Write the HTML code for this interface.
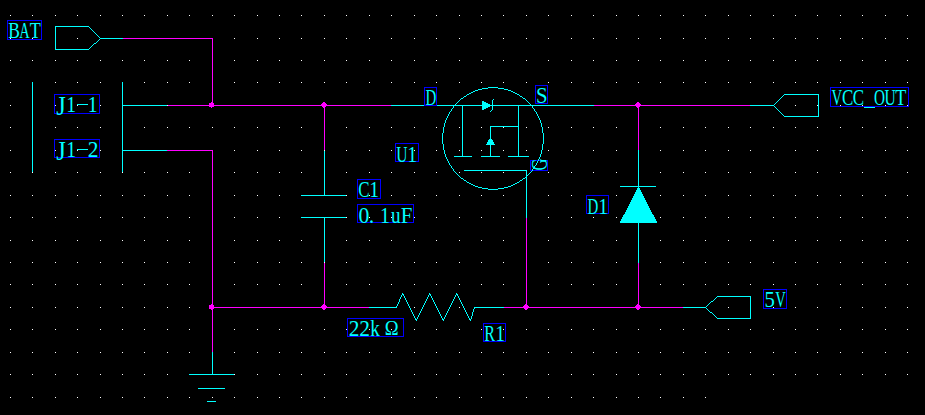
<!DOCTYPE html>
<html><head><meta charset="utf-8"><title>Schematic</title>
<style>
html,body{margin:0;padding:0;background:#000;}
body{width:925px;height:415px;overflow:hidden;font-family:"Liberation Serif",serif;}
svg{display:block;}
text{font-family:"Liberation Serif",serif;font-size:22.7px;fill:#00FFFF;text-anchor:middle;}
</style></head><body>
<svg width="925" height="415" viewBox="0 0 925 415">
<rect width="925" height="415" fill="#000"/>
<g shape-rendering="crispEdges">
<path fill="#FFFFFF" d="M10 15h1v1h-1zM32 15h1v1h-1zM55 15h1v1h-1zM77 15h1v1h-1zM100 15h1v1h-1zM122 15h1v1h-1zM144 15h1v1h-1zM167 15h1v1h-1zM189 15h1v1h-1zM212 15h1v1h-1zM234 15h1v1h-1zM257 15h1v1h-1zM279 15h1v1h-1zM301 15h1v1h-1zM324 15h1v1h-1zM346 15h1v1h-1zM369 15h1v1h-1zM391 15h1v1h-1zM414 15h1v1h-1zM436 15h1v1h-1zM459 15h1v1h-1zM481 15h1v1h-1zM503 15h1v1h-1zM526 15h1v1h-1zM548 15h1v1h-1zM571 15h1v1h-1zM593 15h1v1h-1zM616 15h1v1h-1zM638 15h1v1h-1zM660 15h1v1h-1zM683 15h1v1h-1zM705 15h1v1h-1zM728 15h1v1h-1zM750 15h1v1h-1zM773 15h1v1h-1zM795 15h1v1h-1zM817 15h1v1h-1zM840 15h1v1h-1zM862 15h1v1h-1zM885 15h1v1h-1zM907 15h1v1h-1zM10 38h1v1h-1zM32 38h1v1h-1zM77 38h1v1h-1zM234 38h1v1h-1zM257 38h1v1h-1zM279 38h1v1h-1zM301 38h1v1h-1zM324 38h1v1h-1zM346 38h1v1h-1zM369 38h1v1h-1zM391 38h1v1h-1zM414 38h1v1h-1zM436 38h1v1h-1zM459 38h1v1h-1zM481 38h1v1h-1zM503 38h1v1h-1zM526 38h1v1h-1zM548 38h1v1h-1zM571 38h1v1h-1zM593 38h1v1h-1zM616 38h1v1h-1zM638 38h1v1h-1zM660 38h1v1h-1zM683 38h1v1h-1zM705 38h1v1h-1zM728 38h1v1h-1zM750 38h1v1h-1zM773 38h1v1h-1zM795 38h1v1h-1zM817 38h1v1h-1zM840 38h1v1h-1zM862 38h1v1h-1zM885 38h1v1h-1zM907 38h1v1h-1zM10 60h1v1h-1zM32 60h1v1h-1zM55 60h1v1h-1zM77 60h1v1h-1zM100 60h1v1h-1zM122 60h1v1h-1zM144 60h1v1h-1zM167 60h1v1h-1zM189 60h1v1h-1zM234 60h1v1h-1zM257 60h1v1h-1zM279 60h1v1h-1zM301 60h1v1h-1zM324 60h1v1h-1zM346 60h1v1h-1zM369 60h1v1h-1zM391 60h1v1h-1zM414 60h1v1h-1zM436 60h1v1h-1zM459 60h1v1h-1zM481 60h1v1h-1zM503 60h1v1h-1zM526 60h1v1h-1zM548 60h1v1h-1zM571 60h1v1h-1zM593 60h1v1h-1zM616 60h1v1h-1zM638 60h1v1h-1zM660 60h1v1h-1zM683 60h1v1h-1zM705 60h1v1h-1zM728 60h1v1h-1zM750 60h1v1h-1zM773 60h1v1h-1zM795 60h1v1h-1zM817 60h1v1h-1zM840 60h1v1h-1zM862 60h1v1h-1zM885 60h1v1h-1zM907 60h1v1h-1zM10 82h1v1h-1zM55 82h1v1h-1zM77 82h1v1h-1zM100 82h1v1h-1zM144 82h1v1h-1zM167 82h1v1h-1zM189 82h1v1h-1zM234 82h1v1h-1zM257 82h1v1h-1zM279 82h1v1h-1zM301 82h1v1h-1zM324 82h1v1h-1zM346 82h1v1h-1zM369 82h1v1h-1zM391 82h1v1h-1zM414 82h1v1h-1zM436 82h1v1h-1zM459 82h1v1h-1zM481 82h1v1h-1zM503 82h1v1h-1zM526 82h1v1h-1zM548 82h1v1h-1zM571 82h1v1h-1zM593 82h1v1h-1zM616 82h1v1h-1zM638 82h1v1h-1zM660 82h1v1h-1zM683 82h1v1h-1zM705 82h1v1h-1zM728 82h1v1h-1zM750 82h1v1h-1zM773 82h1v1h-1zM795 82h1v1h-1zM817 82h1v1h-1zM840 82h1v1h-1zM862 82h1v1h-1zM885 82h1v1h-1zM907 82h1v1h-1zM10 105h1v1h-1zM55 105h1v1h-1zM77 105h1v1h-1zM100 105h1v1h-1zM167 105h1v1h-1zM795 105h1v1h-1zM817 105h1v1h-1zM840 105h1v1h-1zM862 105h1v1h-1zM885 105h1v1h-1zM907 105h1v1h-1zM10 127h1v1h-1zM55 127h1v1h-1zM77 127h1v1h-1zM100 127h1v1h-1zM144 127h1v1h-1zM167 127h1v1h-1zM189 127h1v1h-1zM212 127h1v1h-1zM234 127h1v1h-1zM257 127h1v1h-1zM279 127h1v1h-1zM301 127h1v1h-1zM346 127h1v1h-1zM369 127h1v1h-1zM391 127h1v1h-1zM414 127h1v1h-1zM436 127h1v1h-1zM459 127h1v1h-1zM481 127h1v1h-1zM503 127h1v1h-1zM526 127h1v1h-1zM548 127h1v1h-1zM571 127h1v1h-1zM593 127h1v1h-1zM616 127h1v1h-1zM660 127h1v1h-1zM683 127h1v1h-1zM705 127h1v1h-1zM728 127h1v1h-1zM750 127h1v1h-1zM773 127h1v1h-1zM795 127h1v1h-1zM817 127h1v1h-1zM840 127h1v1h-1zM862 127h1v1h-1zM885 127h1v1h-1zM907 127h1v1h-1zM10 150h1v1h-1zM55 150h1v1h-1zM77 150h1v1h-1zM100 150h1v1h-1zM234 150h1v1h-1zM257 150h1v1h-1zM279 150h1v1h-1zM301 150h1v1h-1zM324 150h1v1h-1zM346 150h1v1h-1zM369 150h1v1h-1zM391 150h1v1h-1zM414 150h1v1h-1zM436 150h1v1h-1zM459 150h1v1h-1zM481 150h1v1h-1zM503 150h1v1h-1zM526 150h1v1h-1zM548 150h1v1h-1zM571 150h1v1h-1zM593 150h1v1h-1zM616 150h1v1h-1zM660 150h1v1h-1zM683 150h1v1h-1zM705 150h1v1h-1zM728 150h1v1h-1zM750 150h1v1h-1zM773 150h1v1h-1zM795 150h1v1h-1zM817 150h1v1h-1zM840 150h1v1h-1zM862 150h1v1h-1zM885 150h1v1h-1zM907 150h1v1h-1zM10 172h1v1h-1zM32 172h1v1h-1zM55 172h1v1h-1zM77 172h1v1h-1zM100 172h1v1h-1zM122 172h1v1h-1zM144 172h1v1h-1zM167 172h1v1h-1zM189 172h1v1h-1zM234 172h1v1h-1zM257 172h1v1h-1zM279 172h1v1h-1zM301 172h1v1h-1zM346 172h1v1h-1zM369 172h1v1h-1zM391 172h1v1h-1zM414 172h1v1h-1zM436 172h1v1h-1zM459 172h1v1h-1zM481 172h1v1h-1zM503 172h1v1h-1zM548 172h1v1h-1zM571 172h1v1h-1zM593 172h1v1h-1zM616 172h1v1h-1zM660 172h1v1h-1zM683 172h1v1h-1zM705 172h1v1h-1zM728 172h1v1h-1zM750 172h1v1h-1zM773 172h1v1h-1zM795 172h1v1h-1zM817 172h1v1h-1zM840 172h1v1h-1zM862 172h1v1h-1zM885 172h1v1h-1zM907 172h1v1h-1zM10 195h1v1h-1zM32 195h1v1h-1zM55 195h1v1h-1zM77 195h1v1h-1zM100 195h1v1h-1zM122 195h1v1h-1zM144 195h1v1h-1zM167 195h1v1h-1zM189 195h1v1h-1zM234 195h1v1h-1zM257 195h1v1h-1zM279 195h1v1h-1zM346 195h1v1h-1zM369 195h1v1h-1zM391 195h1v1h-1zM414 195h1v1h-1zM436 195h1v1h-1zM459 195h1v1h-1zM481 195h1v1h-1zM503 195h1v1h-1zM548 195h1v1h-1zM571 195h1v1h-1zM616 195h1v1h-1zM660 195h1v1h-1zM683 195h1v1h-1zM705 195h1v1h-1zM728 195h1v1h-1zM750 195h1v1h-1zM773 195h1v1h-1zM795 195h1v1h-1zM817 195h1v1h-1zM840 195h1v1h-1zM862 195h1v1h-1zM885 195h1v1h-1zM907 195h1v1h-1zM10 217h1v1h-1zM32 217h1v1h-1zM55 217h1v1h-1zM77 217h1v1h-1zM100 217h1v1h-1zM122 217h1v1h-1zM144 217h1v1h-1zM167 217h1v1h-1zM189 217h1v1h-1zM234 217h1v1h-1zM257 217h1v1h-1zM279 217h1v1h-1zM346 217h1v1h-1zM369 217h1v1h-1zM391 217h1v1h-1zM414 217h1v1h-1zM436 217h1v1h-1zM459 217h1v1h-1zM481 217h1v1h-1zM503 217h1v1h-1zM548 217h1v1h-1zM571 217h1v1h-1zM593 217h1v1h-1zM616 217h1v1h-1zM660 217h1v1h-1zM683 217h1v1h-1zM705 217h1v1h-1zM728 217h1v1h-1zM750 217h1v1h-1zM773 217h1v1h-1zM795 217h1v1h-1zM817 217h1v1h-1zM840 217h1v1h-1zM862 217h1v1h-1zM885 217h1v1h-1zM907 217h1v1h-1zM10 240h1v1h-1zM32 240h1v1h-1zM55 240h1v1h-1zM77 240h1v1h-1zM100 240h1v1h-1zM122 240h1v1h-1zM144 240h1v1h-1zM167 240h1v1h-1zM189 240h1v1h-1zM234 240h1v1h-1zM257 240h1v1h-1zM279 240h1v1h-1zM301 240h1v1h-1zM346 240h1v1h-1zM369 240h1v1h-1zM391 240h1v1h-1zM414 240h1v1h-1zM436 240h1v1h-1zM459 240h1v1h-1zM481 240h1v1h-1zM503 240h1v1h-1zM548 240h1v1h-1zM571 240h1v1h-1zM593 240h1v1h-1zM616 240h1v1h-1zM660 240h1v1h-1zM683 240h1v1h-1zM705 240h1v1h-1zM728 240h1v1h-1zM750 240h1v1h-1zM773 240h1v1h-1zM795 240h1v1h-1zM817 240h1v1h-1zM840 240h1v1h-1zM862 240h1v1h-1zM885 240h1v1h-1zM907 240h1v1h-1zM10 262h1v1h-1zM32 262h1v1h-1zM55 262h1v1h-1zM77 262h1v1h-1zM100 262h1v1h-1zM122 262h1v1h-1zM144 262h1v1h-1zM167 262h1v1h-1zM189 262h1v1h-1zM234 262h1v1h-1zM257 262h1v1h-1zM279 262h1v1h-1zM301 262h1v1h-1zM324 262h1v1h-1zM346 262h1v1h-1zM369 262h1v1h-1zM391 262h1v1h-1zM414 262h1v1h-1zM436 262h1v1h-1zM459 262h1v1h-1zM481 262h1v1h-1zM503 262h1v1h-1zM548 262h1v1h-1zM571 262h1v1h-1zM593 262h1v1h-1zM616 262h1v1h-1zM660 262h1v1h-1zM683 262h1v1h-1zM705 262h1v1h-1zM728 262h1v1h-1zM750 262h1v1h-1zM773 262h1v1h-1zM795 262h1v1h-1zM817 262h1v1h-1zM840 262h1v1h-1zM862 262h1v1h-1zM885 262h1v1h-1zM907 262h1v1h-1zM10 284h1v1h-1zM32 284h1v1h-1zM55 284h1v1h-1zM77 284h1v1h-1zM100 284h1v1h-1zM122 284h1v1h-1zM144 284h1v1h-1zM167 284h1v1h-1zM189 284h1v1h-1zM234 284h1v1h-1zM257 284h1v1h-1zM279 284h1v1h-1zM301 284h1v1h-1zM346 284h1v1h-1zM369 284h1v1h-1zM391 284h1v1h-1zM414 284h1v1h-1zM436 284h1v1h-1zM459 284h1v1h-1zM481 284h1v1h-1zM503 284h1v1h-1zM548 284h1v1h-1zM571 284h1v1h-1zM593 284h1v1h-1zM616 284h1v1h-1zM660 284h1v1h-1zM683 284h1v1h-1zM705 284h1v1h-1zM728 284h1v1h-1zM750 284h1v1h-1zM773 284h1v1h-1zM795 284h1v1h-1zM817 284h1v1h-1zM840 284h1v1h-1zM862 284h1v1h-1zM885 284h1v1h-1zM907 284h1v1h-1zM10 307h1v1h-1zM32 307h1v1h-1zM55 307h1v1h-1zM77 307h1v1h-1zM100 307h1v1h-1zM122 307h1v1h-1zM144 307h1v1h-1zM167 307h1v1h-1zM189 307h1v1h-1zM414 307h1v1h-1zM459 307h1v1h-1zM728 307h1v1h-1zM773 307h1v1h-1zM795 307h1v1h-1zM817 307h1v1h-1zM840 307h1v1h-1zM862 307h1v1h-1zM885 307h1v1h-1zM907 307h1v1h-1zM10 329h1v1h-1zM32 329h1v1h-1zM55 329h1v1h-1zM77 329h1v1h-1zM100 329h1v1h-1zM122 329h1v1h-1zM144 329h1v1h-1zM167 329h1v1h-1zM189 329h1v1h-1zM234 329h1v1h-1zM257 329h1v1h-1zM279 329h1v1h-1zM301 329h1v1h-1zM324 329h1v1h-1zM346 329h1v1h-1zM369 329h1v1h-1zM391 329h1v1h-1zM414 329h1v1h-1zM436 329h1v1h-1zM459 329h1v1h-1zM481 329h1v1h-1zM503 329h1v1h-1zM526 329h1v1h-1zM548 329h1v1h-1zM571 329h1v1h-1zM593 329h1v1h-1zM616 329h1v1h-1zM638 329h1v1h-1zM660 329h1v1h-1zM683 329h1v1h-1zM705 329h1v1h-1zM728 329h1v1h-1zM750 329h1v1h-1zM773 329h1v1h-1zM795 329h1v1h-1zM817 329h1v1h-1zM840 329h1v1h-1zM862 329h1v1h-1zM885 329h1v1h-1zM907 329h1v1h-1zM10 352h1v1h-1zM32 352h1v1h-1zM55 352h1v1h-1zM77 352h1v1h-1zM100 352h1v1h-1zM122 352h1v1h-1zM144 352h1v1h-1zM167 352h1v1h-1zM189 352h1v1h-1zM234 352h1v1h-1zM257 352h1v1h-1zM279 352h1v1h-1zM301 352h1v1h-1zM324 352h1v1h-1zM346 352h1v1h-1zM369 352h1v1h-1zM391 352h1v1h-1zM414 352h1v1h-1zM436 352h1v1h-1zM459 352h1v1h-1zM481 352h1v1h-1zM503 352h1v1h-1zM526 352h1v1h-1zM548 352h1v1h-1zM571 352h1v1h-1zM593 352h1v1h-1zM616 352h1v1h-1zM638 352h1v1h-1zM660 352h1v1h-1zM683 352h1v1h-1zM705 352h1v1h-1zM728 352h1v1h-1zM750 352h1v1h-1zM773 352h1v1h-1zM795 352h1v1h-1zM817 352h1v1h-1zM840 352h1v1h-1zM862 352h1v1h-1zM885 352h1v1h-1zM907 352h1v1h-1zM10 374h1v1h-1zM32 374h1v1h-1zM55 374h1v1h-1zM77 374h1v1h-1zM100 374h1v1h-1zM122 374h1v1h-1zM144 374h1v1h-1zM167 374h1v1h-1zM234 374h1v1h-1zM257 374h1v1h-1zM279 374h1v1h-1zM301 374h1v1h-1zM324 374h1v1h-1zM346 374h1v1h-1zM369 374h1v1h-1zM391 374h1v1h-1zM414 374h1v1h-1zM436 374h1v1h-1zM459 374h1v1h-1zM481 374h1v1h-1zM503 374h1v1h-1zM526 374h1v1h-1zM548 374h1v1h-1zM571 374h1v1h-1zM593 374h1v1h-1zM616 374h1v1h-1zM638 374h1v1h-1zM660 374h1v1h-1zM683 374h1v1h-1zM705 374h1v1h-1zM728 374h1v1h-1zM750 374h1v1h-1zM773 374h1v1h-1zM795 374h1v1h-1zM817 374h1v1h-1zM840 374h1v1h-1zM862 374h1v1h-1zM885 374h1v1h-1zM907 374h1v1h-1zM10 397h1v1h-1zM32 397h1v1h-1zM55 397h1v1h-1zM77 397h1v1h-1zM100 397h1v1h-1zM122 397h1v1h-1zM144 397h1v1h-1zM167 397h1v1h-1zM189 397h1v1h-1zM212 397h1v1h-1zM234 397h1v1h-1zM257 397h1v1h-1zM279 397h1v1h-1zM301 397h1v1h-1zM324 397h1v1h-1zM346 397h1v1h-1zM369 397h1v1h-1zM391 397h1v1h-1zM414 397h1v1h-1zM436 397h1v1h-1zM459 397h1v1h-1zM481 397h1v1h-1zM503 397h1v1h-1zM526 397h1v1h-1zM548 397h1v1h-1zM571 397h1v1h-1zM593 397h1v1h-1zM616 397h1v1h-1zM638 397h1v1h-1zM660 397h1v1h-1zM683 397h1v1h-1zM705 397h1v1h-1z"/>
<path fill="#00FFFF" d="M55 26h34v1h-34zM55 27h1v1h-1zM89 27h1v1h-1zM55 28h1v1h-1zM90 28h1v1h-1zM55 29h1v1h-1zM91 29h1v1h-1zM55 30h1v1h-1zM92 30h1v1h-1zM55 31h1v1h-1zM93 31h1v1h-1zM55 32h1v1h-1zM94 32h1v1h-1zM55 33h1v1h-1zM95 33h1v1h-1zM55 34h1v1h-1zM96 34h1v1h-1zM55 35h1v1h-1zM97 35h1v1h-1zM55 36h1v1h-1zM98 36h1v1h-1zM55 37h1v1h-1zM99 37h1v1h-1zM55 38h1v1h-1zM100 38h23v1h-23zM55 39h1v1h-1zM99 39h1v1h-1zM55 40h1v1h-1zM98 40h1v1h-1zM55 41h1v1h-1zM97 41h1v1h-1zM55 42h1v1h-1zM96 42h1v1h-1zM55 43h1v1h-1zM94 43h2v1h-2zM55 44h1v1h-1zM93 44h1v1h-1zM55 45h1v1h-1zM92 45h1v1h-1zM55 46h1v1h-1zM91 46h1v1h-1zM55 47h1v1h-1zM90 47h1v1h-1zM55 48h1v1h-1zM89 48h1v1h-1zM55 49h34v1h-34zM32 82h1v1h-1zM122 82h1v1h-1zM32 83h1v1h-1zM122 83h1v1h-1zM32 84h1v1h-1zM122 84h1v1h-1zM32 85h1v1h-1zM122 85h1v1h-1zM32 86h1v1h-1zM122 86h1v1h-1zM32 87h1v1h-1zM122 87h1v1h-1zM488 87h10v1h-10zM32 88h1v1h-1zM122 88h1v1h-1zM482 88h6v1h-6zM498 88h6v1h-6zM32 89h1v1h-1zM122 89h1v1h-1zM478 89h4v1h-4zM504 89h4v1h-4zM32 90h1v1h-1zM122 90h1v1h-1zM475 90h3v1h-3zM508 90h3v1h-3zM32 91h1v1h-1zM122 91h1v1h-1zM473 91h2v1h-2zM511 91h2v1h-2zM32 92h1v1h-1zM122 92h1v1h-1zM471 92h2v1h-2zM513 92h2v1h-2zM32 93h1v1h-1zM122 93h1v1h-1zM469 93h2v1h-2zM515 93h2v1h-2zM32 94h1v1h-1zM122 94h1v1h-1zM467 94h2v1h-2zM517 94h2v1h-2zM784 94h35v1h-35zM32 95h1v1h-1zM122 95h1v1h-1zM466 95h1v1h-1zM519 95h1v1h-1zM783 95h1v1h-1zM818 95h1v1h-1zM32 96h1v1h-1zM122 96h1v1h-1zM464 96h2v1h-2zM520 96h2v1h-2zM782 96h1v1h-1zM818 96h1v1h-1zM32 97h1v1h-1zM122 97h1v1h-1zM463 97h1v1h-1zM522 97h1v1h-1zM781 97h1v1h-1zM818 97h1v1h-1zM32 98h1v1h-1zM122 98h1v1h-1zM461 98h2v1h-2zM523 98h2v1h-2zM780 98h1v1h-1zM818 98h1v1h-1zM32 99h1v1h-1zM122 99h1v1h-1zM460 99h1v1h-1zM493 99h1v1h-1zM525 99h1v1h-1zM779 99h1v1h-1zM818 99h1v1h-1zM32 100h1v1h-1zM122 100h1v1h-1zM459 100h1v1h-1zM492 100h1v1h-1zM526 100h1v1h-1zM778 100h1v1h-1zM818 100h1v1h-1zM32 101h1v1h-1zM122 101h1v1h-1zM458 101h1v1h-1zM482 101h2v1h-2zM492 101h1v1h-1zM527 101h1v1h-1zM777 101h1v1h-1zM818 101h1v1h-1zM32 102h1v1h-1zM122 102h1v1h-1zM457 102h1v1h-1zM482 102h4v1h-4zM492 102h1v1h-1zM528 102h1v1h-1zM776 102h1v1h-1zM818 102h1v1h-1zM32 103h1v1h-1zM122 103h1v1h-1zM456 103h1v1h-1zM482 103h6v1h-6zM492 103h1v1h-1zM529 103h1v1h-1zM775 103h1v1h-1zM818 103h1v1h-1zM32 104h1v1h-1zM77 104h11v1h-11zM122 104h1v1h-1zM455 104h1v1h-1zM482 104h8v1h-8zM492 104h1v1h-1zM530 104h1v1h-1zM774 104h1v1h-1zM818 104h1v1h-1zM32 105h1v1h-1zM122 105h45v1h-45zM391 105h33v1h-33zM437 105h157v1h-157zM750 105h24v1h-24zM818 105h1v1h-1zM32 106h1v1h-1zM122 106h1v1h-1zM453 106h1v1h-1zM462 106h1v1h-1zM482 106h8v1h-8zM492 106h1v1h-1zM518 106h1v1h-1zM532 106h1v1h-1zM774 106h1v1h-1zM818 106h1v1h-1zM32 107h1v1h-1zM122 107h1v1h-1zM453 107h1v1h-1zM462 107h1v1h-1zM482 107h6v1h-6zM492 107h1v1h-1zM518 107h1v1h-1zM532 107h1v1h-1zM775 107h1v1h-1zM818 107h1v1h-1zM864 107h11v1h-11zM32 108h1v1h-1zM122 108h1v1h-1zM452 108h1v1h-1zM462 108h1v1h-1zM482 108h4v1h-4zM492 108h1v1h-1zM518 108h1v1h-1zM533 108h1v1h-1zM776 108h1v1h-1zM818 108h1v1h-1zM32 109h1v1h-1zM122 109h1v1h-1zM451 109h1v1h-1zM462 109h1v1h-1zM482 109h2v1h-2zM492 109h1v1h-1zM518 109h1v1h-1zM534 109h1v1h-1zM777 109h1v1h-1zM818 109h1v1h-1zM32 110h1v1h-1zM122 110h1v1h-1zM451 110h1v1h-1zM462 110h1v1h-1zM491 110h1v1h-1zM518 110h1v1h-1zM534 110h1v1h-1zM778 110h1v1h-1zM818 110h1v1h-1zM32 111h1v1h-1zM122 111h1v1h-1zM450 111h1v1h-1zM462 111h1v1h-1zM490 111h1v1h-1zM518 111h1v1h-1zM535 111h1v1h-1zM779 111h1v1h-1zM818 111h1v1h-1zM32 112h1v1h-1zM122 112h1v1h-1zM449 112h1v1h-1zM462 112h1v1h-1zM518 112h1v1h-1zM536 112h1v1h-1zM780 112h1v1h-1zM818 112h1v1h-1zM32 113h1v1h-1zM122 113h1v1h-1zM449 113h1v1h-1zM462 113h1v1h-1zM518 113h1v1h-1zM536 113h1v1h-1zM781 113h1v1h-1zM818 113h1v1h-1zM32 114h1v1h-1zM122 114h1v1h-1zM448 114h1v1h-1zM462 114h1v1h-1zM518 114h1v1h-1zM537 114h1v1h-1zM782 114h1v1h-1zM818 114h1v1h-1zM32 115h1v1h-1zM122 115h1v1h-1zM448 115h1v1h-1zM462 115h1v1h-1zM518 115h1v1h-1zM537 115h1v1h-1zM783 115h1v1h-1zM818 115h1v1h-1zM32 116h1v1h-1zM122 116h1v1h-1zM447 116h1v1h-1zM462 116h1v1h-1zM518 116h1v1h-1zM538 116h1v1h-1zM784 116h35v1h-35zM32 117h1v1h-1zM122 117h1v1h-1zM447 117h1v1h-1zM462 117h1v1h-1zM518 117h1v1h-1zM538 117h1v1h-1zM32 118h1v1h-1zM122 118h1v1h-1zM446 118h1v1h-1zM462 118h1v1h-1zM518 118h1v1h-1zM539 118h1v1h-1zM32 119h1v1h-1zM122 119h1v1h-1zM446 119h1v1h-1zM462 119h1v1h-1zM518 119h1v1h-1zM539 119h1v1h-1zM32 120h1v1h-1zM122 120h1v1h-1zM445 120h1v1h-1zM462 120h1v1h-1zM518 120h1v1h-1zM540 120h1v1h-1zM32 121h1v1h-1zM122 121h1v1h-1zM445 121h1v1h-1zM462 121h1v1h-1zM518 121h1v1h-1zM540 121h1v1h-1zM32 122h1v1h-1zM122 122h1v1h-1zM445 122h1v1h-1zM462 122h1v1h-1zM518 122h1v1h-1zM540 122h1v1h-1zM32 123h1v1h-1zM122 123h1v1h-1zM444 123h1v1h-1zM462 123h1v1h-1zM518 123h1v1h-1zM541 123h1v1h-1zM32 124h1v1h-1zM122 124h1v1h-1zM444 124h1v1h-1zM462 124h1v1h-1zM518 124h1v1h-1zM541 124h1v1h-1zM32 125h1v1h-1zM122 125h1v1h-1zM444 125h1v1h-1zM462 125h1v1h-1zM518 125h1v1h-1zM541 125h1v1h-1zM32 126h1v1h-1zM122 126h1v1h-1zM444 126h1v1h-1zM462 126h1v1h-1zM490 126h29v1h-29zM541 126h1v1h-1zM32 127h1v1h-1zM122 127h1v1h-1zM443 127h1v1h-1zM462 127h1v1h-1zM490 127h1v1h-1zM518 127h1v1h-1zM542 127h1v1h-1zM32 128h1v1h-1zM122 128h1v1h-1zM443 128h1v1h-1zM462 128h1v1h-1zM490 128h1v1h-1zM518 128h1v1h-1zM542 128h1v1h-1zM32 129h1v1h-1zM122 129h1v1h-1zM443 129h1v1h-1zM462 129h1v1h-1zM490 129h1v1h-1zM518 129h1v1h-1zM542 129h1v1h-1zM32 130h1v1h-1zM122 130h1v1h-1zM443 130h1v1h-1zM462 130h1v1h-1zM490 130h1v1h-1zM518 130h1v1h-1zM542 130h1v1h-1zM32 131h1v1h-1zM122 131h1v1h-1zM443 131h1v1h-1zM462 131h1v1h-1zM490 131h1v1h-1zM518 131h1v1h-1zM542 131h1v1h-1zM32 132h1v1h-1zM122 132h1v1h-1zM443 132h1v1h-1zM462 132h1v1h-1zM490 132h1v1h-1zM518 132h1v1h-1zM542 132h1v1h-1zM32 133h1v1h-1zM122 133h1v1h-1zM442 133h1v1h-1zM462 133h1v1h-1zM490 133h1v1h-1zM518 133h1v1h-1zM543 133h1v1h-1zM32 134h1v1h-1zM122 134h1v1h-1zM442 134h1v1h-1zM462 134h1v1h-1zM490 134h1v1h-1zM518 134h1v1h-1zM543 134h1v1h-1zM32 135h1v1h-1zM122 135h1v1h-1zM442 135h1v1h-1zM462 135h1v1h-1zM490 135h1v1h-1zM518 135h1v1h-1zM543 135h1v1h-1zM32 136h1v1h-1zM122 136h1v1h-1zM442 136h1v1h-1zM462 136h1v1h-1zM490 136h1v1h-1zM518 136h1v1h-1zM543 136h1v1h-1zM32 137h1v1h-1zM122 137h1v1h-1zM442 137h1v1h-1zM462 137h1v1h-1zM490 137h1v1h-1zM518 137h1v1h-1zM543 137h1v1h-1zM32 138h1v1h-1zM122 138h1v1h-1zM442 138h1v1h-1zM462 138h1v1h-1zM490 138h1v1h-1zM518 138h1v1h-1zM543 138h1v1h-1zM32 139h1v1h-1zM122 139h1v1h-1zM442 139h1v1h-1zM462 139h1v1h-1zM489 139h3v1h-3zM518 139h1v1h-1zM543 139h1v1h-1zM32 140h1v1h-1zM122 140h1v1h-1zM442 140h1v1h-1zM462 140h1v1h-1zM488 140h5v1h-5zM518 140h1v1h-1zM543 140h1v1h-1zM32 141h1v1h-1zM122 141h1v1h-1zM442 141h1v1h-1zM462 141h1v1h-1zM488 141h5v1h-5zM518 141h1v1h-1zM543 141h1v1h-1zM32 142h1v1h-1zM122 142h1v1h-1zM442 142h1v1h-1zM462 142h1v1h-1zM487 142h7v1h-7zM518 142h1v1h-1zM543 142h1v1h-1zM32 143h1v1h-1zM122 143h1v1h-1zM442 143h1v1h-1zM462 143h1v1h-1zM487 143h7v1h-7zM518 143h1v1h-1zM543 143h1v1h-1zM32 144h1v1h-1zM122 144h1v1h-1zM443 144h1v1h-1zM462 144h1v1h-1zM486 144h9v1h-9zM518 144h1v1h-1zM542 144h1v1h-1zM32 145h1v1h-1zM122 145h1v1h-1zM443 145h1v1h-1zM462 145h1v1h-1zM490 145h1v1h-1zM518 145h1v1h-1zM542 145h1v1h-1zM32 146h1v1h-1zM122 146h1v1h-1zM443 146h1v1h-1zM462 146h1v1h-1zM490 146h1v1h-1zM518 146h1v1h-1zM542 146h1v1h-1zM32 147h1v1h-1zM122 147h1v1h-1zM443 147h1v1h-1zM462 147h1v1h-1zM490 147h1v1h-1zM518 147h1v1h-1zM542 147h1v1h-1zM32 148h1v1h-1zM122 148h1v1h-1zM443 148h1v1h-1zM462 148h1v1h-1zM490 148h1v1h-1zM518 148h1v1h-1zM542 148h1v1h-1zM32 149h1v1h-1zM77 149h11v1h-11zM122 149h1v1h-1zM443 149h1v1h-1zM462 149h1v1h-1zM490 149h1v1h-1zM518 149h1v1h-1zM542 149h1v1h-1zM32 150h1v1h-1zM122 150h45v1h-45zM444 150h1v1h-1zM462 150h1v1h-1zM490 150h1v1h-1zM518 150h1v1h-1zM541 150h1v1h-1zM638 150h1v1h-1zM32 151h1v1h-1zM122 151h1v1h-1zM324 151h1v1h-1zM444 151h1v1h-1zM462 151h1v1h-1zM490 151h1v1h-1zM518 151h1v1h-1zM541 151h1v1h-1zM638 151h1v1h-1zM32 152h1v1h-1zM122 152h1v1h-1zM324 152h1v1h-1zM444 152h1v1h-1zM462 152h1v1h-1zM490 152h1v1h-1zM518 152h1v1h-1zM541 152h1v1h-1zM638 152h1v1h-1zM32 153h1v1h-1zM122 153h1v1h-1zM324 153h1v1h-1zM444 153h1v1h-1zM462 153h1v1h-1zM490 153h1v1h-1zM518 153h1v1h-1zM541 153h1v1h-1zM638 153h1v1h-1zM32 154h1v1h-1zM122 154h1v1h-1zM324 154h1v1h-1zM445 154h1v1h-1zM462 154h1v1h-1zM490 154h1v1h-1zM518 154h1v1h-1zM540 154h1v1h-1zM638 154h1v1h-1zM32 155h1v1h-1zM122 155h1v1h-1zM324 155h1v1h-1zM445 155h1v1h-1zM462 155h1v1h-1zM490 155h1v1h-1zM518 155h1v1h-1zM540 155h1v1h-1zM638 155h1v1h-1zM32 156h1v1h-1zM122 156h1v1h-1zM324 156h1v1h-1zM445 156h1v1h-1zM454 156h18v1h-18zM481 156h19v1h-19zM508 156h21v1h-21zM540 156h1v1h-1zM638 156h1v1h-1zM32 157h1v1h-1zM122 157h1v1h-1zM324 157h1v1h-1zM446 157h1v1h-1zM539 157h1v1h-1zM638 157h1v1h-1zM32 158h1v1h-1zM122 158h1v1h-1zM324 158h1v1h-1zM446 158h1v1h-1zM539 158h1v1h-1zM638 158h1v1h-1zM32 159h1v1h-1zM122 159h1v1h-1zM324 159h1v1h-1zM447 159h1v1h-1zM538 159h1v1h-1zM638 159h1v1h-1zM32 160h1v1h-1zM122 160h1v1h-1zM324 160h1v1h-1zM447 160h1v1h-1zM538 160h1v1h-1zM638 160h1v1h-1zM32 161h1v1h-1zM122 161h1v1h-1zM324 161h1v1h-1zM448 161h1v1h-1zM537 161h1v1h-1zM638 161h1v1h-1zM32 162h1v1h-1zM122 162h1v1h-1zM324 162h1v1h-1zM448 162h1v1h-1zM537 162h1v1h-1zM638 162h1v1h-1zM32 163h1v1h-1zM122 163h1v1h-1zM324 163h1v1h-1zM449 163h1v1h-1zM536 163h1v1h-1zM638 163h1v1h-1zM32 164h1v1h-1zM122 164h1v1h-1zM324 164h1v1h-1zM449 164h1v1h-1zM536 164h1v1h-1zM638 164h1v1h-1zM32 165h1v1h-1zM122 165h1v1h-1zM324 165h1v1h-1zM450 165h1v1h-1zM535 165h1v1h-1zM638 165h1v1h-1zM32 166h1v1h-1zM122 166h1v1h-1zM324 166h1v1h-1zM451 166h1v1h-1zM534 166h1v1h-1zM638 166h1v1h-1zM32 167h1v1h-1zM122 167h1v1h-1zM324 167h1v1h-1zM451 167h1v1h-1zM534 167h1v1h-1zM638 167h1v1h-1zM32 168h1v1h-1zM122 168h1v1h-1zM324 168h1v1h-1zM452 168h1v1h-1zM533 168h1v1h-1zM638 168h1v1h-1zM32 169h1v1h-1zM122 169h1v1h-1zM324 169h1v1h-1zM453 169h1v1h-1zM532 169h1v1h-1zM638 169h1v1h-1zM32 170h1v1h-1zM122 170h1v1h-1zM324 170h1v1h-1zM453 170h1v1h-1zM464 170h63v1h-63zM532 170h1v1h-1zM638 170h1v1h-1zM32 171h1v1h-1zM122 171h1v1h-1zM324 171h1v1h-1zM454 171h1v1h-1zM526 171h1v1h-1zM531 171h1v1h-1zM638 171h1v1h-1zM324 172h1v1h-1zM455 172h1v1h-1zM526 172h1v1h-1zM530 172h1v1h-1zM638 172h1v1h-1zM324 173h1v1h-1zM456 173h1v1h-1zM526 173h1v1h-1zM529 173h1v1h-1zM638 173h1v1h-1zM324 174h1v1h-1zM457 174h1v1h-1zM526 174h1v1h-1zM528 174h1v1h-1zM638 174h1v1h-1zM324 175h1v1h-1zM458 175h1v1h-1zM526 175h2v1h-2zM638 175h1v1h-1zM324 176h1v1h-1zM459 176h1v1h-1zM526 176h1v1h-1zM638 176h1v1h-1zM324 177h1v1h-1zM460 177h1v1h-1zM525 177h2v1h-2zM638 177h1v1h-1zM324 178h1v1h-1zM461 178h2v1h-2zM523 178h2v1h-2zM526 178h1v1h-1zM638 178h1v1h-1zM324 179h1v1h-1zM463 179h1v1h-1zM522 179h1v1h-1zM526 179h1v1h-1zM638 179h1v1h-1zM324 180h1v1h-1zM464 180h2v1h-2zM520 180h2v1h-2zM526 180h1v1h-1zM638 180h1v1h-1zM324 181h1v1h-1zM466 181h1v1h-1zM519 181h1v1h-1zM526 181h1v1h-1zM638 181h1v1h-1zM324 182h1v1h-1zM467 182h2v1h-2zM517 182h2v1h-2zM526 182h1v1h-1zM638 182h1v1h-1zM324 183h1v1h-1zM469 183h2v1h-2zM515 183h2v1h-2zM526 183h1v1h-1zM638 183h1v1h-1zM324 184h1v1h-1zM471 184h2v1h-2zM513 184h2v1h-2zM526 184h1v1h-1zM638 184h1v1h-1zM324 185h1v1h-1zM473 185h2v1h-2zM511 185h2v1h-2zM526 185h1v1h-1zM638 185h1v1h-1zM324 186h1v1h-1zM475 186h3v1h-3zM508 186h3v1h-3zM526 186h1v1h-1zM620 186h36v1h-36zM324 187h1v1h-1zM478 187h4v1h-4zM504 187h4v1h-4zM526 187h1v1h-1zM638 187h1v1h-1zM324 188h1v1h-1zM482 188h6v1h-6zM498 188h6v1h-6zM526 188h1v1h-1zM637 188h3v1h-3zM324 189h1v1h-1zM488 189h10v1h-10zM526 189h1v1h-1zM637 189h3v1h-3zM324 190h1v1h-1zM526 190h1v1h-1zM636 190h5v1h-5zM324 191h1v1h-1zM526 191h1v1h-1zM636 191h5v1h-5zM324 192h1v1h-1zM526 192h1v1h-1zM635 192h7v1h-7zM324 193h1v1h-1zM526 193h1v1h-1zM635 193h7v1h-7zM324 194h1v1h-1zM526 194h1v1h-1zM634 194h9v1h-9zM301 195h45v1h-45zM526 195h1v1h-1zM634 195h9v1h-9zM526 196h1v1h-1zM633 196h11v1h-11zM526 197h1v1h-1zM633 197h11v1h-11zM526 198h1v1h-1zM632 198h13v1h-13zM526 199h1v1h-1zM632 199h13v1h-13zM526 200h1v1h-1zM631 200h15v1h-15zM526 201h1v1h-1zM631 201h15v1h-15zM526 202h1v1h-1zM630 202h17v1h-17zM526 203h1v1h-1zM630 203h17v1h-17zM526 204h1v1h-1zM629 204h19v1h-19zM526 205h1v1h-1zM629 205h19v1h-19zM526 206h1v1h-1zM628 206h21v1h-21zM526 207h1v1h-1zM628 207h21v1h-21zM526 208h1v1h-1zM627 208h23v1h-23zM526 209h1v1h-1zM627 209h23v1h-23zM526 210h1v1h-1zM626 210h25v1h-25zM526 211h1v1h-1zM626 211h25v1h-25zM526 212h1v1h-1zM625 212h27v1h-27zM526 213h1v1h-1zM625 213h27v1h-27zM526 214h1v1h-1zM624 214h29v1h-29zM526 215h1v1h-1zM623 215h31v1h-31zM526 216h1v1h-1zM623 216h31v1h-31zM301 217h45v1h-45zM526 217h1v1h-1zM622 217h33v1h-33zM324 218h1v1h-1zM622 218h33v1h-33zM324 219h1v1h-1zM621 219h35v1h-35zM324 220h1v1h-1zM621 220h35v1h-35zM324 221h1v1h-1zM620 221h37v1h-37zM324 222h1v1h-1zM620 222h37v1h-37zM324 223h1v1h-1zM638 223h1v1h-1zM324 224h1v1h-1zM638 224h1v1h-1zM324 225h1v1h-1zM638 225h1v1h-1zM324 226h1v1h-1zM638 226h1v1h-1zM324 227h1v1h-1zM638 227h1v1h-1zM324 228h1v1h-1zM638 228h1v1h-1zM324 229h1v1h-1zM638 229h1v1h-1zM324 230h1v1h-1zM638 230h1v1h-1zM324 231h1v1h-1zM638 231h1v1h-1zM324 232h1v1h-1zM638 232h1v1h-1zM324 233h1v1h-1zM638 233h1v1h-1zM324 234h1v1h-1zM638 234h1v1h-1zM324 235h1v1h-1zM638 235h1v1h-1zM324 236h1v1h-1zM638 236h1v1h-1zM324 237h1v1h-1zM638 237h1v1h-1zM324 238h1v1h-1zM638 238h1v1h-1zM324 239h1v1h-1zM638 239h1v1h-1zM324 240h1v1h-1zM638 240h1v1h-1zM324 241h1v1h-1zM638 241h1v1h-1zM324 242h1v1h-1zM638 242h1v1h-1zM324 243h1v1h-1zM638 243h1v1h-1zM324 244h1v1h-1zM638 244h1v1h-1zM324 245h1v1h-1zM638 245h1v1h-1zM324 246h1v1h-1zM638 246h1v1h-1zM324 247h1v1h-1zM638 247h1v1h-1zM324 248h1v1h-1zM638 248h1v1h-1zM324 249h1v1h-1zM638 249h1v1h-1zM324 250h1v1h-1zM638 250h1v1h-1zM324 251h1v1h-1zM638 251h1v1h-1zM324 252h1v1h-1zM638 252h1v1h-1zM324 253h1v1h-1zM638 253h1v1h-1zM324 254h1v1h-1zM638 254h1v1h-1zM324 255h1v1h-1zM638 255h1v1h-1zM324 256h1v1h-1zM638 256h1v1h-1zM324 257h1v1h-1zM638 257h1v1h-1zM324 258h1v1h-1zM638 258h1v1h-1zM324 259h1v1h-1zM638 259h1v1h-1zM324 260h1v1h-1zM638 260h1v1h-1zM324 261h1v1h-1zM638 261h1v1h-1zM638 262h1v1h-1zM402 293h1v1h-1zM429 293h1v1h-1zM456 293h1v1h-1zM402 294h2v1h-2zM429 294h2v1h-2zM456 294h2v1h-2zM401 295h1v1h-1zM403 295h1v1h-1zM428 295h1v1h-1zM430 295h1v1h-1zM455 295h1v1h-1zM457 295h1v1h-1zM401 296h1v1h-1zM404 296h1v1h-1zM428 296h1v1h-1zM431 296h1v1h-1zM455 296h1v1h-1zM458 296h1v1h-1zM717 296h34v1h-34zM400 297h1v1h-1zM404 297h1v1h-1zM427 297h1v1h-1zM431 297h1v1h-1zM454 297h1v1h-1zM458 297h1v1h-1zM716 297h1v1h-1zM750 297h1v1h-1zM400 298h1v1h-1zM405 298h1v1h-1zM427 298h1v1h-1zM432 298h1v1h-1zM454 298h1v1h-1zM459 298h1v1h-1zM715 298h1v1h-1zM750 298h1v1h-1zM399 299h1v1h-1zM405 299h1v1h-1zM426 299h1v1h-1zM432 299h1v1h-1zM453 299h1v1h-1zM459 299h1v1h-1zM714 299h1v1h-1zM750 299h1v1h-1zM399 300h1v1h-1zM406 300h1v1h-1zM426 300h1v1h-1zM433 300h1v1h-1zM453 300h1v1h-1zM460 300h1v1h-1zM713 300h1v1h-1zM750 300h1v1h-1zM399 301h1v1h-1zM406 301h1v1h-1zM425 301h1v1h-1zM433 301h1v1h-1zM452 301h1v1h-1zM460 301h1v1h-1zM711 301h2v1h-2zM750 301h1v1h-1zM398 302h1v1h-1zM407 302h1v1h-1zM425 302h1v1h-1zM434 302h1v1h-1zM452 302h1v1h-1zM461 302h1v1h-1zM710 302h1v1h-1zM750 302h1v1h-1zM398 303h1v1h-1zM407 303h1v1h-1zM424 303h1v1h-1zM434 303h1v1h-1zM451 303h1v1h-1zM461 303h1v1h-1zM709 303h1v1h-1zM750 303h1v1h-1zM397 304h1v1h-1zM408 304h1v1h-1zM424 304h1v1h-1zM435 304h1v1h-1zM451 304h1v1h-1zM462 304h1v1h-1zM708 304h1v1h-1zM750 304h1v1h-1zM397 305h1v1h-1zM408 305h1v1h-1zM423 305h1v1h-1zM435 305h1v1h-1zM450 305h1v1h-1zM462 305h1v1h-1zM707 305h1v1h-1zM750 305h1v1h-1zM396 306h1v1h-1zM409 306h1v1h-1zM423 306h1v1h-1zM436 306h1v1h-1zM450 306h1v1h-1zM463 306h1v1h-1zM706 306h1v1h-1zM750 306h1v1h-1zM369 307h28v1h-28zM409 307h1v1h-1zM422 307h1v1h-1zM436 307h1v1h-1zM449 307h1v1h-1zM463 307h1v1h-1zM474 307h30v1h-30zM683 307h23v1h-23zM750 307h1v1h-1zM410 308h1v1h-1zM422 308h1v1h-1zM437 308h1v1h-1zM449 308h1v1h-1zM464 308h1v1h-1zM474 308h1v1h-1zM706 308h1v1h-1zM750 308h1v1h-1zM410 309h1v1h-1zM421 309h1v1h-1zM437 309h1v1h-1zM448 309h1v1h-1zM464 309h1v1h-1zM473 309h1v1h-1zM707 309h1v1h-1zM750 309h1v1h-1zM411 310h1v1h-1zM421 310h1v1h-1zM438 310h1v1h-1zM448 310h1v1h-1zM465 310h1v1h-1zM473 310h1v1h-1zM708 310h1v1h-1zM750 310h1v1h-1zM411 311h1v1h-1zM420 311h1v1h-1zM438 311h1v1h-1zM447 311h1v1h-1zM465 311h1v1h-1zM473 311h1v1h-1zM709 311h1v1h-1zM750 311h1v1h-1zM412 312h1v1h-1zM420 312h1v1h-1zM439 312h1v1h-1zM447 312h1v1h-1zM466 312h1v1h-1zM472 312h1v1h-1zM710 312h2v1h-2zM750 312h1v1h-1zM412 313h1v1h-1zM419 313h1v1h-1zM439 313h1v1h-1zM446 313h1v1h-1zM466 313h1v1h-1zM472 313h1v1h-1zM712 313h1v1h-1zM750 313h1v1h-1zM413 314h1v1h-1zM419 314h1v1h-1zM440 314h1v1h-1zM446 314h1v1h-1zM467 314h1v1h-1zM472 314h1v1h-1zM713 314h1v1h-1zM750 314h1v1h-1zM413 315h1v1h-1zM418 315h1v1h-1zM440 315h1v1h-1zM445 315h1v1h-1zM467 315h1v1h-1zM472 315h1v1h-1zM714 315h1v1h-1zM750 315h1v1h-1zM414 316h1v1h-1zM418 316h1v1h-1zM441 316h1v1h-1zM445 316h1v1h-1zM468 316h1v1h-1zM471 316h1v1h-1zM715 316h1v1h-1zM750 316h1v1h-1zM414 317h1v1h-1zM417 317h1v1h-1zM441 317h1v1h-1zM444 317h1v1h-1zM468 317h1v1h-1zM471 317h1v1h-1zM716 317h1v1h-1zM750 317h1v1h-1zM415 318h1v1h-1zM417 318h1v1h-1zM442 318h1v1h-1zM444 318h1v1h-1zM469 318h1v1h-1zM471 318h1v1h-1zM717 318h34v1h-34zM415 319h2v1h-2zM442 319h2v1h-2zM469 319h2v1h-2zM416 320h1v1h-1zM443 320h1v1h-1zM470 320h1v1h-1zM212 352h1v1h-1zM212 353h1v1h-1zM212 354h1v1h-1zM212 355h1v1h-1zM212 356h1v1h-1zM212 357h1v1h-1zM212 358h1v1h-1zM212 359h1v1h-1zM212 360h1v1h-1zM212 361h1v1h-1zM212 362h1v1h-1zM212 363h1v1h-1zM212 364h1v1h-1zM212 365h1v1h-1zM212 366h1v1h-1zM212 367h1v1h-1zM212 368h1v1h-1zM212 369h1v1h-1zM212 370h1v1h-1zM212 371h1v1h-1zM212 372h1v1h-1zM212 373h1v1h-1zM189 374h45v1h-45zM198 388h27v1h-27zM207 401h9v1h-9z"/>
<path fill="#FF00FF" d="M123 38h90v1h-90zM212 39h1v1h-1zM212 40h1v1h-1zM212 41h1v1h-1zM212 42h1v1h-1zM212 43h1v1h-1zM212 44h1v1h-1zM212 45h1v1h-1zM212 46h1v1h-1zM212 47h1v1h-1zM212 48h1v1h-1zM212 49h1v1h-1zM212 50h1v1h-1zM212 51h1v1h-1zM212 52h1v1h-1zM212 53h1v1h-1zM212 54h1v1h-1zM212 55h1v1h-1zM212 56h1v1h-1zM212 57h1v1h-1zM212 58h1v1h-1zM212 59h1v1h-1zM212 60h1v1h-1zM212 61h1v1h-1zM212 62h1v1h-1zM212 63h1v1h-1zM212 64h1v1h-1zM212 65h1v1h-1zM212 66h1v1h-1zM212 67h1v1h-1zM212 68h1v1h-1zM212 69h1v1h-1zM212 70h1v1h-1zM212 71h1v1h-1zM212 72h1v1h-1zM212 73h1v1h-1zM212 74h1v1h-1zM212 75h1v1h-1zM212 76h1v1h-1zM212 77h1v1h-1zM212 78h1v1h-1zM212 79h1v1h-1zM212 80h1v1h-1zM212 81h1v1h-1zM212 82h1v1h-1zM212 83h1v1h-1zM212 84h1v1h-1zM212 85h1v1h-1zM212 86h1v1h-1zM212 87h1v1h-1zM212 88h1v1h-1zM212 89h1v1h-1zM212 90h1v1h-1zM212 91h1v1h-1zM212 92h1v1h-1zM212 93h1v1h-1zM212 94h1v1h-1zM212 95h1v1h-1zM212 96h1v1h-1zM212 97h1v1h-1zM212 98h1v1h-1zM212 99h1v1h-1zM212 100h1v1h-1zM212 101h1v1h-1zM211 102h2v1h-2zM323 102h2v1h-2zM637 102h2v1h-2zM209 103h5v1h-5zM322 103h4v1h-4zM636 103h4v1h-4zM209 104h5v1h-5zM321 104h6v1h-6zM635 104h6v1h-6zM168 105h223v1h-223zM594 105h156v1h-156zM209 106h5v1h-5zM322 106h4v1h-4zM636 106h4v1h-4zM211 107h1v1h-1zM323 107h2v1h-2zM637 107h2v1h-2zM324 108h1v1h-1zM638 108h1v1h-1zM324 109h1v1h-1zM638 109h1v1h-1zM324 110h1v1h-1zM638 110h1v1h-1zM324 111h1v1h-1zM638 111h1v1h-1zM324 112h1v1h-1zM638 112h1v1h-1zM324 113h1v1h-1zM638 113h1v1h-1zM324 114h1v1h-1zM638 114h1v1h-1zM324 115h1v1h-1zM638 115h1v1h-1zM324 116h1v1h-1zM638 116h1v1h-1zM324 117h1v1h-1zM638 117h1v1h-1zM324 118h1v1h-1zM638 118h1v1h-1zM324 119h1v1h-1zM638 119h1v1h-1zM324 120h1v1h-1zM638 120h1v1h-1zM324 121h1v1h-1zM638 121h1v1h-1zM324 122h1v1h-1zM638 122h1v1h-1zM324 123h1v1h-1zM638 123h1v1h-1zM324 124h1v1h-1zM638 124h1v1h-1zM324 125h1v1h-1zM638 125h1v1h-1zM324 126h1v1h-1zM638 126h1v1h-1zM324 127h1v1h-1zM638 127h1v1h-1zM324 128h1v1h-1zM638 128h1v1h-1zM324 129h1v1h-1zM638 129h1v1h-1zM324 130h1v1h-1zM638 130h1v1h-1zM324 131h1v1h-1zM638 131h1v1h-1zM324 132h1v1h-1zM638 132h1v1h-1zM324 133h1v1h-1zM638 133h1v1h-1zM324 134h1v1h-1zM638 134h1v1h-1zM324 135h1v1h-1zM638 135h1v1h-1zM324 136h1v1h-1zM638 136h1v1h-1zM324 137h1v1h-1zM638 137h1v1h-1zM324 138h1v1h-1zM638 138h1v1h-1zM324 139h1v1h-1zM638 139h1v1h-1zM324 140h1v1h-1zM638 140h1v1h-1zM324 141h1v1h-1zM638 141h1v1h-1zM324 142h1v1h-1zM638 142h1v1h-1zM324 143h1v1h-1zM638 143h1v1h-1zM324 144h1v1h-1zM638 144h1v1h-1zM324 145h1v1h-1zM638 145h1v1h-1zM324 146h1v1h-1zM638 146h1v1h-1zM324 147h1v1h-1zM638 147h1v1h-1zM324 148h1v1h-1zM638 148h1v1h-1zM324 149h1v1h-1zM638 149h1v1h-1zM167 150h46v1h-46zM212 151h1v1h-1zM212 152h1v1h-1zM212 153h1v1h-1zM212 154h1v1h-1zM212 155h1v1h-1zM212 156h1v1h-1zM212 157h1v1h-1zM212 158h1v1h-1zM212 159h1v1h-1zM212 160h1v1h-1zM212 161h1v1h-1zM212 162h1v1h-1zM212 163h1v1h-1zM212 164h1v1h-1zM212 165h1v1h-1zM212 166h1v1h-1zM212 167h1v1h-1zM212 168h1v1h-1zM212 169h1v1h-1zM212 170h1v1h-1zM212 171h1v1h-1zM212 172h1v1h-1zM212 173h1v1h-1zM212 174h1v1h-1zM212 175h1v1h-1zM212 176h1v1h-1zM212 177h1v1h-1zM212 178h1v1h-1zM212 179h1v1h-1zM212 180h1v1h-1zM212 181h1v1h-1zM212 182h1v1h-1zM212 183h1v1h-1zM212 184h1v1h-1zM212 185h1v1h-1zM212 186h1v1h-1zM212 187h1v1h-1zM212 188h1v1h-1zM212 189h1v1h-1zM212 190h1v1h-1zM212 191h1v1h-1zM212 192h1v1h-1zM212 193h1v1h-1zM212 194h1v1h-1zM212 195h1v1h-1zM212 196h1v1h-1zM212 197h1v1h-1zM212 198h1v1h-1zM212 199h1v1h-1zM212 200h1v1h-1zM212 201h1v1h-1zM212 202h1v1h-1zM212 203h1v1h-1zM212 204h1v1h-1zM212 205h1v1h-1zM212 206h1v1h-1zM212 207h1v1h-1zM212 208h1v1h-1zM212 209h1v1h-1zM212 210h1v1h-1zM212 211h1v1h-1zM212 212h1v1h-1zM212 213h1v1h-1zM212 214h1v1h-1zM212 215h1v1h-1zM212 216h1v1h-1zM212 217h1v1h-1zM212 218h1v1h-1zM526 218h1v1h-1zM212 219h1v1h-1zM526 219h1v1h-1zM212 220h1v1h-1zM526 220h1v1h-1zM212 221h1v1h-1zM526 221h1v1h-1zM212 222h1v1h-1zM526 222h1v1h-1zM212 223h1v1h-1zM526 223h1v1h-1zM212 224h1v1h-1zM526 224h1v1h-1zM212 225h1v1h-1zM526 225h1v1h-1zM212 226h1v1h-1zM526 226h1v1h-1zM212 227h1v1h-1zM526 227h1v1h-1zM212 228h1v1h-1zM526 228h1v1h-1zM212 229h1v1h-1zM526 229h1v1h-1zM212 230h1v1h-1zM526 230h1v1h-1zM212 231h1v1h-1zM526 231h1v1h-1zM212 232h1v1h-1zM526 232h1v1h-1zM212 233h1v1h-1zM526 233h1v1h-1zM212 234h1v1h-1zM526 234h1v1h-1zM212 235h1v1h-1zM526 235h1v1h-1zM212 236h1v1h-1zM526 236h1v1h-1zM212 237h1v1h-1zM526 237h1v1h-1zM212 238h1v1h-1zM526 238h1v1h-1zM212 239h1v1h-1zM526 239h1v1h-1zM212 240h1v1h-1zM526 240h1v1h-1zM212 241h1v1h-1zM526 241h1v1h-1zM212 242h1v1h-1zM526 242h1v1h-1zM212 243h1v1h-1zM526 243h1v1h-1zM212 244h1v1h-1zM526 244h1v1h-1zM212 245h1v1h-1zM526 245h1v1h-1zM212 246h1v1h-1zM526 246h1v1h-1zM212 247h1v1h-1zM526 247h1v1h-1zM212 248h1v1h-1zM526 248h1v1h-1zM212 249h1v1h-1zM526 249h1v1h-1zM212 250h1v1h-1zM526 250h1v1h-1zM212 251h1v1h-1zM526 251h1v1h-1zM212 252h1v1h-1zM526 252h1v1h-1zM212 253h1v1h-1zM526 253h1v1h-1zM212 254h1v1h-1zM526 254h1v1h-1zM212 255h1v1h-1zM526 255h1v1h-1zM212 256h1v1h-1zM526 256h1v1h-1zM212 257h1v1h-1zM526 257h1v1h-1zM212 258h1v1h-1zM526 258h1v1h-1zM212 259h1v1h-1zM526 259h1v1h-1zM212 260h1v1h-1zM526 260h1v1h-1zM212 261h1v1h-1zM526 261h1v1h-1zM212 262h1v1h-1zM526 262h1v1h-1zM212 263h1v1h-1zM324 263h1v1h-1zM526 263h1v1h-1zM638 263h1v1h-1zM212 264h1v1h-1zM324 264h1v1h-1zM526 264h1v1h-1zM638 264h1v1h-1zM212 265h1v1h-1zM324 265h1v1h-1zM526 265h1v1h-1zM638 265h1v1h-1zM212 266h1v1h-1zM324 266h1v1h-1zM526 266h1v1h-1zM638 266h1v1h-1zM212 267h1v1h-1zM324 267h1v1h-1zM526 267h1v1h-1zM638 267h1v1h-1zM212 268h1v1h-1zM324 268h1v1h-1zM526 268h1v1h-1zM638 268h1v1h-1zM212 269h1v1h-1zM324 269h1v1h-1zM526 269h1v1h-1zM638 269h1v1h-1zM212 270h1v1h-1zM324 270h1v1h-1zM526 270h1v1h-1zM638 270h1v1h-1zM212 271h1v1h-1zM324 271h1v1h-1zM526 271h1v1h-1zM638 271h1v1h-1zM212 272h1v1h-1zM324 272h1v1h-1zM526 272h1v1h-1zM638 272h1v1h-1zM212 273h1v1h-1zM324 273h1v1h-1zM526 273h1v1h-1zM638 273h1v1h-1zM212 274h1v1h-1zM324 274h1v1h-1zM526 274h1v1h-1zM638 274h1v1h-1zM212 275h1v1h-1zM324 275h1v1h-1zM526 275h1v1h-1zM638 275h1v1h-1zM212 276h1v1h-1zM324 276h1v1h-1zM526 276h1v1h-1zM638 276h1v1h-1zM212 277h1v1h-1zM324 277h1v1h-1zM526 277h1v1h-1zM638 277h1v1h-1zM212 278h1v1h-1zM324 278h1v1h-1zM526 278h1v1h-1zM638 278h1v1h-1zM212 279h1v1h-1zM324 279h1v1h-1zM526 279h1v1h-1zM638 279h1v1h-1zM212 280h1v1h-1zM324 280h1v1h-1zM526 280h1v1h-1zM638 280h1v1h-1zM212 281h1v1h-1zM324 281h1v1h-1zM526 281h1v1h-1zM638 281h1v1h-1zM212 282h1v1h-1zM324 282h1v1h-1zM526 282h1v1h-1zM638 282h1v1h-1zM212 283h1v1h-1zM324 283h1v1h-1zM526 283h1v1h-1zM638 283h1v1h-1zM212 284h1v1h-1zM324 284h1v1h-1zM526 284h1v1h-1zM638 284h1v1h-1zM212 285h1v1h-1zM324 285h1v1h-1zM526 285h1v1h-1zM638 285h1v1h-1zM212 286h1v1h-1zM324 286h1v1h-1zM526 286h1v1h-1zM638 286h1v1h-1zM212 287h1v1h-1zM324 287h1v1h-1zM526 287h1v1h-1zM638 287h1v1h-1zM212 288h1v1h-1zM324 288h1v1h-1zM526 288h1v1h-1zM638 288h1v1h-1zM212 289h1v1h-1zM324 289h1v1h-1zM526 289h1v1h-1zM638 289h1v1h-1zM212 290h1v1h-1zM324 290h1v1h-1zM526 290h1v1h-1zM638 290h1v1h-1zM212 291h1v1h-1zM324 291h1v1h-1zM526 291h1v1h-1zM638 291h1v1h-1zM212 292h1v1h-1zM324 292h1v1h-1zM526 292h1v1h-1zM638 292h1v1h-1zM212 293h1v1h-1zM324 293h1v1h-1zM526 293h1v1h-1zM638 293h1v1h-1zM212 294h1v1h-1zM324 294h1v1h-1zM526 294h1v1h-1zM638 294h1v1h-1zM212 295h1v1h-1zM324 295h1v1h-1zM526 295h1v1h-1zM638 295h1v1h-1zM212 296h1v1h-1zM324 296h1v1h-1zM526 296h1v1h-1zM638 296h1v1h-1zM212 297h1v1h-1zM324 297h1v1h-1zM526 297h1v1h-1zM638 297h1v1h-1zM212 298h1v1h-1zM324 298h1v1h-1zM526 298h1v1h-1zM638 298h1v1h-1zM212 299h1v1h-1zM324 299h1v1h-1zM526 299h1v1h-1zM638 299h1v1h-1zM212 300h1v1h-1zM324 300h1v1h-1zM526 300h1v1h-1zM638 300h1v1h-1zM212 301h1v1h-1zM324 301h1v1h-1zM526 301h1v1h-1zM638 301h1v1h-1zM212 302h1v1h-1zM324 302h1v1h-1zM526 302h1v1h-1zM638 302h1v1h-1zM212 303h1v1h-1zM324 303h1v1h-1zM526 303h1v1h-1zM638 303h1v1h-1zM211 304h2v1h-2zM323 304h2v1h-2zM525 304h2v1h-2zM637 304h2v1h-2zM209 305h5v1h-5zM322 305h4v1h-4zM524 305h4v1h-4zM636 305h4v1h-4zM209 306h5v1h-5zM321 306h6v1h-6zM523 306h6v1h-6zM635 306h6v1h-6zM209 307h160v1h-160zM504 307h179v1h-179zM209 308h5v1h-5zM322 308h4v1h-4zM524 308h4v1h-4zM636 308h4v1h-4zM211 309h2v1h-2zM323 309h2v1h-2zM525 309h2v1h-2zM637 309h2v1h-2zM212 310h1v1h-1zM212 311h1v1h-1zM212 312h1v1h-1zM212 313h1v1h-1zM212 314h1v1h-1zM212 315h1v1h-1zM212 316h1v1h-1zM212 317h1v1h-1zM212 318h1v1h-1zM212 319h1v1h-1zM212 320h1v1h-1zM212 321h1v1h-1zM212 322h1v1h-1zM212 323h1v1h-1zM212 324h1v1h-1zM212 325h1v1h-1zM212 326h1v1h-1zM212 327h1v1h-1zM212 328h1v1h-1zM212 329h1v1h-1zM212 330h1v1h-1zM212 331h1v1h-1zM212 332h1v1h-1zM212 333h1v1h-1zM212 334h1v1h-1zM212 335h1v1h-1zM212 336h1v1h-1zM212 337h1v1h-1zM212 338h1v1h-1zM212 339h1v1h-1zM212 340h1v1h-1zM212 341h1v1h-1zM212 342h1v1h-1zM212 343h1v1h-1zM212 344h1v1h-1zM212 345h1v1h-1zM212 346h1v1h-1zM212 347h1v1h-1zM212 348h1v1h-1zM212 349h1v1h-1zM212 350h1v1h-1zM212 351h1v1h-1z"/>
<path fill="#0000FF" d="M7 20h35v1h-35zM7 21h1v1h-1zM41 21h1v1h-1zM7 22h1v1h-1zM41 22h1v1h-1zM7 23h1v1h-1zM41 23h1v1h-1zM7 24h1v1h-1zM41 24h1v1h-1zM7 25h1v1h-1zM41 25h1v1h-1zM7 26h1v1h-1zM41 26h1v1h-1zM7 27h1v1h-1zM41 27h1v1h-1zM7 28h1v1h-1zM41 28h1v1h-1zM7 29h1v1h-1zM41 29h1v1h-1zM7 30h1v1h-1zM41 30h1v1h-1zM7 31h1v1h-1zM41 31h1v1h-1zM7 32h1v1h-1zM41 32h1v1h-1zM7 33h1v1h-1zM41 33h1v1h-1zM7 34h1v1h-1zM41 34h1v1h-1zM7 35h1v1h-1zM41 35h1v1h-1zM7 36h1v1h-1zM41 36h1v1h-1zM7 37h1v1h-1zM41 37h1v1h-1zM7 38h1v1h-1zM41 38h1v1h-1zM7 39h35v1h-35zM535 85h13v1h-13zM535 86h1v1h-1zM547 86h1v1h-1zM424 87h13v1h-13zM535 87h1v1h-1zM547 87h1v1h-1zM830 87h79v1h-79zM424 88h1v1h-1zM436 88h1v1h-1zM535 88h1v1h-1zM547 88h1v1h-1zM830 88h1v1h-1zM908 88h1v1h-1zM424 89h1v1h-1zM436 89h1v1h-1zM535 89h1v1h-1zM547 89h1v1h-1zM830 89h1v1h-1zM908 89h1v1h-1zM424 90h1v1h-1zM436 90h1v1h-1zM535 90h1v1h-1zM547 90h1v1h-1zM830 90h1v1h-1zM908 90h1v1h-1zM424 91h1v1h-1zM436 91h1v1h-1zM535 91h1v1h-1zM547 91h1v1h-1zM830 91h1v1h-1zM908 91h1v1h-1zM424 92h1v1h-1zM436 92h1v1h-1zM535 92h1v1h-1zM547 92h1v1h-1zM830 92h1v1h-1zM908 92h1v1h-1zM424 93h1v1h-1zM436 93h1v1h-1zM535 93h1v1h-1zM547 93h1v1h-1zM830 93h1v1h-1zM908 93h1v1h-1zM54 94h46v1h-46zM424 94h1v1h-1zM436 94h1v1h-1zM535 94h1v1h-1zM547 94h1v1h-1zM830 94h1v1h-1zM908 94h1v1h-1zM54 95h1v1h-1zM99 95h1v1h-1zM424 95h1v1h-1zM436 95h1v1h-1zM535 95h1v1h-1zM547 95h1v1h-1zM830 95h1v1h-1zM908 95h1v1h-1zM54 96h1v1h-1zM99 96h1v1h-1zM424 96h1v1h-1zM436 96h1v1h-1zM535 96h1v1h-1zM547 96h1v1h-1zM830 96h1v1h-1zM908 96h1v1h-1zM54 97h1v1h-1zM99 97h1v1h-1zM424 97h1v1h-1zM436 97h1v1h-1zM535 97h1v1h-1zM547 97h1v1h-1zM830 97h1v1h-1zM908 97h1v1h-1zM54 98h1v1h-1zM99 98h1v1h-1zM424 98h1v1h-1zM436 98h1v1h-1zM535 98h1v1h-1zM547 98h1v1h-1zM830 98h1v1h-1zM908 98h1v1h-1zM54 99h1v1h-1zM99 99h1v1h-1zM424 99h1v1h-1zM436 99h1v1h-1zM535 99h1v1h-1zM547 99h1v1h-1zM830 99h1v1h-1zM908 99h1v1h-1zM54 100h1v1h-1zM99 100h1v1h-1zM424 100h1v1h-1zM436 100h1v1h-1zM535 100h1v1h-1zM547 100h1v1h-1zM830 100h1v1h-1zM908 100h1v1h-1zM54 101h1v1h-1zM99 101h1v1h-1zM424 101h1v1h-1zM436 101h1v1h-1zM535 101h1v1h-1zM547 101h1v1h-1zM830 101h1v1h-1zM908 101h1v1h-1zM54 102h1v1h-1zM99 102h1v1h-1zM424 102h1v1h-1zM436 102h1v1h-1zM535 102h1v1h-1zM547 102h1v1h-1zM830 102h1v1h-1zM908 102h1v1h-1zM54 103h1v1h-1zM99 103h1v1h-1zM424 103h1v1h-1zM436 103h1v1h-1zM535 103h13v1h-13zM830 103h1v1h-1zM908 103h1v1h-1zM54 104h1v1h-1zM99 104h1v1h-1zM424 104h1v1h-1zM436 104h1v1h-1zM830 104h1v1h-1zM908 104h1v1h-1zM54 105h1v1h-1zM99 105h1v1h-1zM424 105h13v1h-13zM830 105h1v1h-1zM908 105h1v1h-1zM54 106h1v1h-1zM99 106h1v1h-1zM830 106h79v1h-79zM54 107h1v1h-1zM99 107h1v1h-1zM54 108h1v1h-1zM99 108h1v1h-1zM54 109h1v1h-1zM99 109h1v1h-1zM54 110h1v1h-1zM99 110h1v1h-1zM54 111h1v1h-1zM99 111h1v1h-1zM54 112h1v1h-1zM99 112h1v1h-1zM54 113h46v1h-46zM54 139h46v1h-46zM54 140h1v1h-1zM99 140h1v1h-1zM54 141h1v1h-1zM99 141h1v1h-1zM54 142h1v1h-1zM99 142h1v1h-1zM54 143h1v1h-1zM99 143h1v1h-1zM395 143h24v1h-24zM54 144h1v1h-1zM99 144h1v1h-1zM395 144h1v1h-1zM418 144h1v1h-1zM54 145h1v1h-1zM99 145h1v1h-1zM395 145h1v1h-1zM418 145h1v1h-1zM54 146h1v1h-1zM99 146h1v1h-1zM395 146h1v1h-1zM418 146h1v1h-1zM54 147h1v1h-1zM99 147h1v1h-1zM395 147h1v1h-1zM418 147h1v1h-1zM54 148h1v1h-1zM99 148h1v1h-1zM395 148h1v1h-1zM418 148h1v1h-1zM54 149h1v1h-1zM99 149h1v1h-1zM395 149h1v1h-1zM418 149h1v1h-1zM54 150h1v1h-1zM99 150h1v1h-1zM395 150h1v1h-1zM418 150h1v1h-1zM54 151h1v1h-1zM99 151h1v1h-1zM395 151h1v1h-1zM418 151h1v1h-1zM54 152h1v1h-1zM99 152h1v1h-1zM395 152h1v1h-1zM418 152h1v1h-1zM54 153h1v1h-1zM99 153h1v1h-1zM395 153h1v1h-1zM418 153h1v1h-1zM54 154h1v1h-1zM99 154h1v1h-1zM395 154h1v1h-1zM418 154h1v1h-1zM54 155h1v1h-1zM99 155h1v1h-1zM395 155h1v1h-1zM418 155h1v1h-1zM54 156h1v1h-1zM99 156h1v1h-1zM395 156h1v1h-1zM418 156h1v1h-1zM54 157h46v1h-46zM395 157h1v1h-1zM418 157h1v1h-1zM395 158h1v1h-1zM418 158h1v1h-1zM395 159h1v1h-1zM418 159h1v1h-1zM395 160h1v1h-1zM418 160h1v1h-1zM530 160h8v1h-8zM539 160h9v1h-9zM395 161h24v1h-24zM530 161h1v1h-1zM547 161h1v1h-1zM530 162h1v1h-1zM547 162h1v1h-1zM530 163h1v1h-1zM547 163h1v1h-1zM530 164h1v1h-1zM547 164h1v1h-1zM530 165h1v1h-1zM547 165h1v1h-1zM530 166h1v1h-1zM547 166h1v1h-1zM530 167h1v1h-1zM547 167h1v1h-1zM530 168h1v1h-1zM547 168h1v1h-1zM530 169h1v1h-1zM547 169h1v1h-1zM530 170h2v1h-2zM533 170h15v1h-15zM357 179h24v1h-24zM357 180h1v1h-1zM380 180h1v1h-1zM357 181h1v1h-1zM380 181h1v1h-1zM357 182h1v1h-1zM380 182h1v1h-1zM357 183h1v1h-1zM380 183h1v1h-1zM357 184h1v1h-1zM380 184h1v1h-1zM357 185h1v1h-1zM380 185h1v1h-1zM357 186h1v1h-1zM380 186h1v1h-1zM357 187h1v1h-1zM380 187h1v1h-1zM357 188h1v1h-1zM380 188h1v1h-1zM357 189h1v1h-1zM380 189h1v1h-1zM357 190h1v1h-1zM380 190h1v1h-1zM357 191h1v1h-1zM380 191h1v1h-1zM357 192h1v1h-1zM380 192h1v1h-1zM357 193h1v1h-1zM380 193h1v1h-1zM357 194h1v1h-1zM380 194h1v1h-1zM357 195h1v1h-1zM380 195h1v1h-1zM586 195h23v1h-23zM357 196h1v1h-1zM380 196h1v1h-1zM586 196h1v1h-1zM608 196h1v1h-1zM357 197h1v1h-1zM380 197h1v1h-1zM586 197h1v1h-1zM608 197h1v1h-1zM357 198h24v1h-24zM586 198h1v1h-1zM608 198h1v1h-1zM586 199h1v1h-1zM608 199h1v1h-1zM586 200h1v1h-1zM608 200h1v1h-1zM586 201h1v1h-1zM608 201h1v1h-1zM586 202h1v1h-1zM608 202h1v1h-1zM586 203h1v1h-1zM608 203h1v1h-1zM357 204h57v1h-57zM586 204h1v1h-1zM608 204h1v1h-1zM357 205h1v1h-1zM413 205h1v1h-1zM586 205h1v1h-1zM608 205h1v1h-1zM357 206h1v1h-1zM413 206h1v1h-1zM586 206h1v1h-1zM608 206h1v1h-1zM357 207h1v1h-1zM413 207h1v1h-1zM586 207h1v1h-1zM608 207h1v1h-1zM357 208h1v1h-1zM413 208h1v1h-1zM586 208h1v1h-1zM608 208h1v1h-1zM357 209h1v1h-1zM413 209h1v1h-1zM586 209h1v1h-1zM608 209h1v1h-1zM357 210h1v1h-1zM413 210h1v1h-1zM586 210h1v1h-1zM608 210h1v1h-1zM357 211h1v1h-1zM413 211h1v1h-1zM586 211h1v1h-1zM608 211h1v1h-1zM357 212h1v1h-1zM413 212h1v1h-1zM586 212h1v1h-1zM608 212h1v1h-1zM357 213h1v1h-1zM413 213h1v1h-1zM586 213h23v1h-23zM357 214h1v1h-1zM413 214h1v1h-1zM357 215h1v1h-1zM413 215h1v1h-1zM357 216h1v1h-1zM413 216h1v1h-1zM357 217h1v1h-1zM413 217h1v1h-1zM357 218h1v1h-1zM413 218h1v1h-1zM357 219h1v1h-1zM413 219h1v1h-1zM357 220h1v1h-1zM413 220h1v1h-1zM357 221h1v1h-1zM413 221h1v1h-1zM357 222h57v1h-57zM763 289h24v1h-24zM763 290h1v1h-1zM786 290h1v1h-1zM763 291h1v1h-1zM786 291h1v1h-1zM763 292h1v1h-1zM786 292h1v1h-1zM763 293h1v1h-1zM786 293h1v1h-1zM763 294h1v1h-1zM786 294h1v1h-1zM763 295h1v1h-1zM786 295h1v1h-1zM763 296h1v1h-1zM786 296h1v1h-1zM763 297h1v1h-1zM786 297h1v1h-1zM763 298h1v1h-1zM786 298h1v1h-1zM763 299h1v1h-1zM786 299h1v1h-1zM763 300h1v1h-1zM786 300h1v1h-1zM763 301h1v1h-1zM786 301h1v1h-1zM763 302h1v1h-1zM786 302h1v1h-1zM763 303h1v1h-1zM786 303h1v1h-1zM763 304h1v1h-1zM786 304h1v1h-1zM763 305h1v1h-1zM786 305h1v1h-1zM763 306h1v1h-1zM786 306h1v1h-1zM763 307h1v1h-1zM786 307h1v1h-1zM763 308h24v1h-24zM347 318h57v1h-57zM347 319h1v1h-1zM403 319h1v1h-1zM347 320h1v1h-1zM403 320h1v1h-1zM347 321h1v1h-1zM403 321h1v1h-1zM347 322h1v1h-1zM403 322h1v1h-1zM347 323h1v1h-1zM403 323h1v1h-1zM483 323h23v1h-23zM347 324h1v1h-1zM403 324h1v1h-1zM483 324h1v1h-1zM505 324h1v1h-1zM347 325h1v1h-1zM403 325h1v1h-1zM483 325h1v1h-1zM505 325h1v1h-1zM347 326h1v1h-1zM403 326h1v1h-1zM483 326h1v1h-1zM505 326h1v1h-1zM347 327h1v1h-1zM403 327h1v1h-1zM483 327h1v1h-1zM505 327h1v1h-1zM347 328h1v1h-1zM403 328h1v1h-1zM483 328h1v1h-1zM505 328h1v1h-1zM347 329h1v1h-1zM403 329h1v1h-1zM483 329h1v1h-1zM505 329h1v1h-1zM347 330h1v1h-1zM403 330h1v1h-1zM483 330h1v1h-1zM505 330h1v1h-1zM347 331h1v1h-1zM403 331h1v1h-1zM483 331h1v1h-1zM505 331h1v1h-1zM347 332h1v1h-1zM403 332h1v1h-1zM483 332h1v1h-1zM505 332h1v1h-1zM347 333h1v1h-1zM403 333h1v1h-1zM483 333h1v1h-1zM505 333h1v1h-1zM347 334h1v1h-1zM403 334h1v1h-1zM483 334h1v1h-1zM505 334h1v1h-1zM347 335h1v1h-1zM403 335h1v1h-1zM483 335h1v1h-1zM505 335h1v1h-1zM347 336h57v1h-57zM483 336h1v1h-1zM505 336h1v1h-1zM483 337h1v1h-1zM505 337h1v1h-1zM483 338h1v1h-1zM505 338h1v1h-1zM483 339h1v1h-1zM505 339h1v1h-1zM483 340h1v1h-1zM505 340h1v1h-1zM483 341h23v1h-23z"/>
</g>
<g>
<text transform="translate(14.00 38) scale(0.770 1)">B</text>
<text transform="translate(24.47 38) scale(0.640 1)">A</text>
<text transform="translate(35.16 38) scale(0.794 1)">T</text>
<text transform="translate(61.04 115.2) scale(1.08 1.16)">J</text>
<text transform="translate(71.26 112) scale(0.864 1)">1</text>
<text transform="translate(92.60 112) scale(0.864 1)">1</text>
<text transform="translate(61.04 160.2) scale(1.08 1.16)">J</text>
<text transform="translate(71.26 157) scale(0.864 1)">1</text>
<text transform="translate(93.01 157) scale(0.946 1)">2</text>
<text transform="translate(430.93 105) scale(0.658 1)">D</text>
<text transform="translate(541.75 103) scale(0.918 1)">S</text>
<text transform="translate(401.83 162) scale(0.686 1)">U</text>
<text transform="translate(412.26 162) scale(0.864 1)">1</text>
<text transform="translate(363.96 197) scale(0.746 1)">C</text>
<text transform="translate(374.26 197) scale(0.864 1)">1</text>
<text transform="translate(363.85 223) scale(0.959 1)">0</text>
<text transform="translate(371.51 223) scale(0.964 1)">.</text>
<text transform="translate(384.93 223) scale(0.864 1)">1</text>
<text transform="translate(395.86 223) scale(0.841 1)">u</text>
<text transform="translate(406.57 223) scale(0.920 1)">F</text>
<text transform="translate(592.93 214) scale(0.658 1)">D</text>
<text transform="translate(603.26 214) scale(0.864 1)">1</text>
<text transform="translate(354.00 336) scale(0.946 1)">2</text>
<text transform="translate(364.67 336) scale(0.946 1)">2</text>
<text transform="translate(374.98 336) scale(0.845 1)">k</text>
<text transform="translate(391.68 335) scale(0.822 0.93)">Ω</text>
<text transform="translate(489.60 341) scale(0.712 1)">R</text>
<text transform="translate(500.26 341) scale(0.864 1)">1</text>
<text transform="translate(769.62 307) scale(0.913 1)">5</text>
<text transform="translate(780.50 307) scale(0.644 1)">V</text>
<text transform="translate(836.84 105) scale(0.644 1)">V</text>
<text transform="translate(847.63 105) scale(0.746 1)">C</text>
<text transform="translate(858.30 105) scale(0.746 1)">C</text>
<text transform="translate(879.51 105) scale(0.671 1)">O</text>
<text transform="translate(890.18 105) scale(0.686 1)">U</text>
<text transform="translate(900.84 105) scale(0.794 1)">T</text>
<text transform="translate(547 164.4) rotate(-90) scale(0.730 1)">G</text>
</g>
</svg>
</body></html>
